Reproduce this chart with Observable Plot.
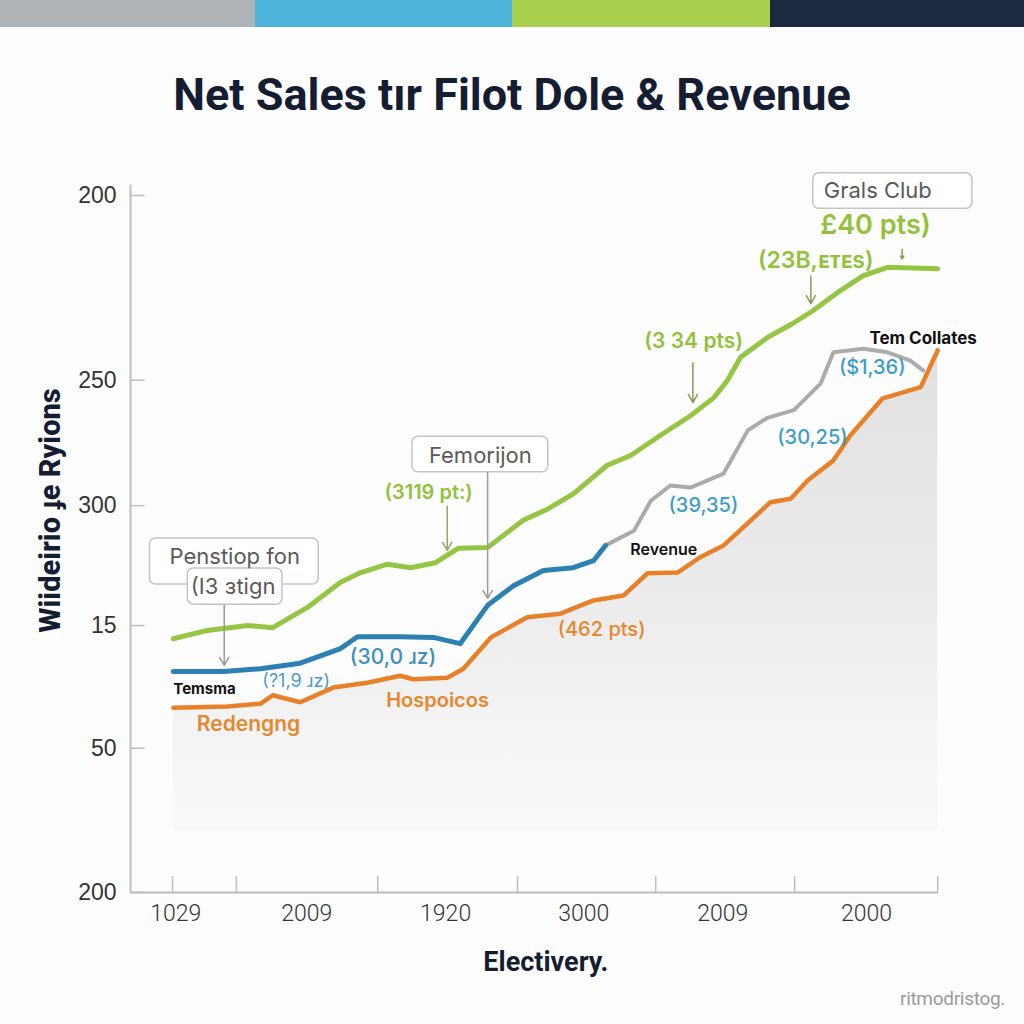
<!DOCTYPE html>
<html><head><meta charset="utf-8">
<script src="https://cdn.jsdelivr.net/npm/d3@7"></script>
<script src="https://cdn.jsdelivr.net/npm/@observablehq/plot@0.6"></script>
<style>
html,body{margin:0;padding:0;background:#fff;}
#wrap{position:relative;width:1024px;height:1024px;overflow:hidden;background:#fdfdfd;}
.bars{position:absolute;left:0;top:0;width:1024px;height:27px;display:flex;}
.bars div{height:27px;}
#chart{position:absolute;left:0;top:0;}
.title{position:absolute;left:0;top:68px;width:1024px;text-align:center;font-family:Roboto,'Liberation Sans',sans-serif;font-weight:700;font-size:45px;color:#151d33;letter-spacing:0px;}
.wm{position:absolute;right:19px;top:987px;font-family:Roboto,'Liberation Sans',sans-serif;font-size:19px;color:#9a9a9a;letter-spacing:-0.3px;}
</style></head>
<body><div id="wrap">
<div class="bars"><div style="width:255px;background:#aeb3b8"></div><div style="width:257px;background:#4cb3da"></div><div style="width:258px;background:#a9d14f"></div><div style="width:254px;background:#1d2940"></div></div>
<div id="chart"></div>
<div class="title">Net Sales tır Filot Dole &amp; Revenue</div>
<div class="wm">ritmodristog.</div>
</div>
<script>
// Series (x in period units 0-100, y in index units 0-100)
const greenX = [5.3,9.5,14.5,17.6,21.9,26.0,28.5,31.8,34.7,37.7,40.6,44.2,48.6,51.6,54.8,59.0,61.9,65.6,69.3,72.2,73.9,75.5,78.8,81.9,84.5,87.9,90.7,93.7,99.9];
const greenY = [36.4,37.6,38.3,38.0,40.9,44.5,45.9,47.1,46.6,47.3,49.4,49.5,53.4,55.0,57.2,61.3,62.7,65.6,68.4,71.0,73.5,76.8,79.6,81.6,83.5,86.4,88.5,89.7,89.5];
const blueX = [5.3,11.5,16.1,21.0,26.0,28.1,33.4,37.5,40.8,44.2,47.4,51.1,54.8,57.3,58.8];
const blueY = [31.7,31.7,32.1,32.9,35.0,36.7,36.7,36.6,35.7,41.2,44.0,46.2,46.6,47.6,49.8];
const grayX = [58.8,62.3,64.4,66.8,69.3,73.4,76.4,78.8,82.1,85.4,87.0,90.7,93.7,96.5,98.1];
const grayY = [49.8,51.9,56.2,58.4,58.1,60.1,66.3,68.1,69.2,73.0,77.5,78.0,77.5,76.3,74.9];
const orangeX = [5.3,12.0,16.1,17.6,21.0,25.1,29.3,33.4,35.0,39.2,41.2,44.6,49.1,53.2,57.3,61.0,64.0,67.7,70.5,73.4,75.1,79.2,81.7,83.8,87.0,89.1,93.1,97.8,99.9];
const orangeY = [26.5,26.7,27.1,28.3,27.3,29.4,30.1,31.1,30.6,30.8,32.1,36.6,39.5,40.0,41.9,42.6,45.8,45.9,48.1,49.8,51.6,56.0,56.5,59.1,62.0,65.6,70.9,72.5,77.8];
const areaBase = 8.9;

// Axis ticks and labels
const yTickPos = [100,73.5,55.5,38.3,20.7,0];
const yTickLabels = ["200","250","300","15","50","200"];
const xTickPos = [5.2,13.1,30.6,47.9,65.0,82.2,99.9];
const xLabelPos = [5.6,21.8,39.0,56.1,73.3,91.1];
const xLabels = ["1029","2009","1920","3000","2009","2000"];

// Annotation texts
const annotations = [
  {x:85.8, y:100.6, t:"Grals Club", c:"#5a5a5a", s:22, w:400, a:"start"},
  {x:92.2, y:95.7, t:"£40 pts)", c:"#93c13c", s:27, w:600, a:"middle"},
  {x:84.8, y:90.7, t:"(23B,ᴇᴛᴇs)", c:"#93c13c", s:23, w:600, a:"middle"},
  {x:69.7, y:79.1, t:"(3 34 pts)", c:"#93c13c", s:21, w:600, a:"middle"},
  {x:98.1, y:79.5, t:"Tem Collates", c:"#111", s:17, w:700, a:"middle"},
  {x:91.8, y:75.3, t:"($1,36)", c:"#3c9dc8", s:20, w:500, a:"middle"},
  {x:84.4, y:65.3, t:"(30,25)", c:"#3c9dc8", s:20, w:500, a:"middle"},
  {x:70.9, y:55.5, t:"(39,35)", c:"#3c9dc8", s:20, w:500, a:"middle"},
  {x:66.0, y:49.2, t:"Revenue", c:"#111", s:16, w:600, a:"middle"},
  {x:58.3, y:37.7, t:"(462 pts)", c:"#e8862c", s:20, w:500, a:"middle"},
  {x:43.3, y:62.7, t:"Femorijon", c:"#5a5a5a", s:22, w:400, a:"middle"},
  {x:36.9, y:57.4, t:"(3119 pt:)", c:"#93c13c", s:20, w:600, a:"middle"},
  {x:12.9, y:48.1, t:"Penstiop fon", c:"#5a5a5a", s:22, w:400, a:"middle"},
  {x:12.7, y:43.9, t:"(I3 ɜtign", c:"#5a5a5a", s:22, w:400, a:"middle"},
  {x:5.3, y:29.1, t:"Temsma", c:"#111", s:15, w:700, a:"start"},
  {x:20.5, y:30.3, t:"(?1,9 ɹz)", c:"#4a9dc5", s:18, w:400, a:"middle"},
  {x:32.5, y:33.7, t:"(30,0 ɹz)", c:"#3c8fbf", s:21, w:500, a:"middle"},
  {x:38.0, y:27.5, t:"Hospoicos", c:"#e8862c", s:20, w:600, a:"middle"},
  {x:14.6, y:24.1, t:"Redengng", c:"#e8862c", s:21, w:600, a:"middle"}
];
const boxes = [
  {x1:84.5, x2:104.2, y1:98.1, y2:103.2},
  {x1:34.9, x2:51.7, y1:60.3, y2:65.4},
  {x1:2.4, x2:23.3, y1:44.2, y2:50.8},
  {x1:7.1, x2:18.8, y1:41.3, y2:46.5}
];
const arrows = [
  {x:11.6, y1:41.2, y2:32.6, c:"#9a9a9a"},
  {x:44.2, y1:60.3, y2:42.2, c:"#9a9a9a"},
  {x:39.2, y1:55.4, y2:49.1, c:"#98a868"},
  {x:69.6, y1:76.0, y2:70.3, c:"#8a9a55"},
  {x:84.2, y1:88.4, y2:84.5, c:"#8a9a55"},
  {x:95.5, y1:92.3, y2:90.9, c:"#8a9a55"}
];

const zip = (xs, ys) => xs.map((x, i) => ({x, y: ys[i]}));
const green = zip(greenX, greenY), blue = zip(blueX, blueY), gray = zip(grayX, grayY), orange = zip(orangeX, orangeY);
const yMap = new Map(yTickPos.map((p, i) => [p, yTickLabels[i]]));
const xMap = new Map(xLabelPos.map((p, i) => [p, xLabels[i]]));

const chart = Plot.plot({
  width: 1024, height: 1024,
  marginLeft: 130, marginRight: 86, marginTop: 195, marginBottom: 132,
  x: {domain: [0, 100], axis: null},
  y: {domain: [0, 100], axis: null},
  style: {background: "transparent", fontFamily: "'Liberation Sans', Arial, sans-serif", fontSize: "22px", color: "#333", overflow: "visible"},
  marks: [
    Plot.areaY(orange, {x: "x", y1: areaBase, y2: "y", fill: "url(#areaGrad)"}),
    Plot.ruleX([0], {y1: 0, y2: 101.5, stroke: "#bdbdbd", strokeWidth: 2}),
    Plot.ruleY([0], {x1: 0, x2: 100, stroke: "#bdbdbd", strokeWidth: 2}),
    Plot.ruleY(yTickPos, {x1: 0, x2: 1.8, stroke: "#bdbdbd", strokeWidth: 1.5}),
    Plot.ruleX(xTickPos, {y1: 0, y2: 2.3, stroke: "#bdbdbd", strokeWidth: 1.5}),
    Plot.axisY(yTickPos, {tickSize: 0, tickPadding: 14, tickFormat: d => yMap.get(d), fontSize: 23, fill: "#333"}),
    Plot.axisX(xLabelPos, {tickSize: 0, tickPadding: 12, tickFormat: d => xMap.get(d), fontSize: 23, fill: "#333", fontFamily: "Roboto, sans-serif", fontWeight: 300}),
    Plot.line(orange, {x: "x", y: "y", stroke: "#e8802a", strokeWidth: 4.5, strokeLinejoin: "round", strokeLinecap: "round"}),
    Plot.line(gray, {x: "x", y: "y", stroke: "#ababab", strokeWidth: 4, strokeLinejoin: "round", strokeLinecap: "round"}),
    Plot.line(blue, {x: "x", y: "y", stroke: "#2d80b2", strokeWidth: 5, strokeLinejoin: "round", strokeLinecap: "round"}),
    Plot.line(green, {x: "x", y: "y", stroke: "#94c643", strokeWidth: 5, strokeLinejoin: "round", strokeLinecap: "round"}),
    Plot.rect(boxes, {x1: "x1", x2: "x2", y1: "y1", y2: "y2", fill: "white", stroke: "#c4c4c4", strokeWidth: 1.5, rx: 6}),
    Plot.arrow(arrows, {x1: "x", x2: "x", y1: "y1", y2: "y2", stroke: "c", strokeWidth: 1.5, headLength: 9}),
    ...annotations.map(a => Plot.text([a], {x: "x", y: "y", text: "t", fill: a.c, fontSize: a.s, fontWeight: a.w, textAnchor: a.a, fontFamily: "Inter, 'Open Sans', sans-serif"})),
    Plot.text(["Wiideirio ɟe Ryions"], {x: -9.9, y: 54.8, text: d => d, rotate: -90, fontSize: 29, fontWeight: 800, fill: "#151d33", fontFamily: "Roboto, sans-serif"}),
    Plot.text(["Electivery."], {x: 51.4, y: -10.0, text: d => d, fontSize: 27, fontWeight: 700, fill: "#151d33", fontFamily: "Roboto, sans-serif"})
  ]
});
d3.select(chart).insert("defs", ":first-child").html(
  '<linearGradient id="areaGrad" gradientUnits="userSpaceOnUse" x1="0" y1="350" x2="0" y2="832">' +
  '<stop offset="0" stop-color="#e0e0e0"/><stop offset="0.6" stop-color="#eeeeee"/><stop offset="1" stop-color="#fafafa"/></linearGradient>');
document.getElementById("chart").appendChild(chart);
</script>
</body></html>
